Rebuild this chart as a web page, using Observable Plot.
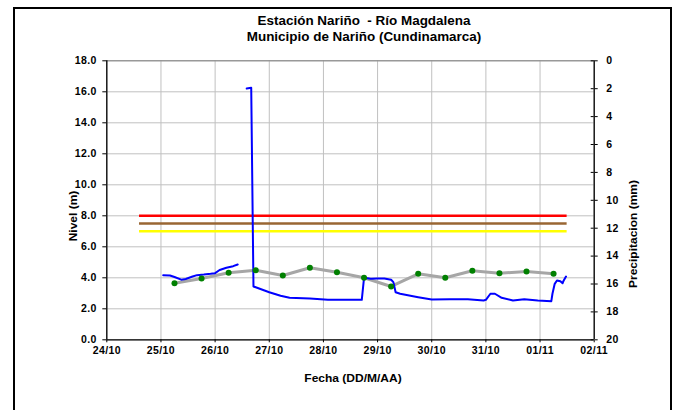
<!DOCTYPE html>
<html><head><meta charset="utf-8">
<script src="https://cdn.jsdelivr.net/npm/d3@7"></script>
<script src="https://cdn.jsdelivr.net/npm/@observablehq/plot@0.6"></script>
<style>
body{margin:0;background:#fff;}
#wrap{position:relative;width:676px;height:410px;overflow:hidden;font-family:"Liberation Sans",Arial,sans-serif;background:#fff;}
#frame{position:absolute;left:13px;top:7px;width:659px;height:430px;border:2px solid #000;box-sizing:border-box;}
#chart{position:absolute;left:0;top:0;}
.t{position:absolute;font-weight:bold;white-space:nowrap;color:#000;}
.h{transform:translate(-50%,-50%) scaleX(1.12);}
.a{transform:translate(-50%,-50%) scaleX(1.2);}
.r{transform:translate(-50%,-50%) rotate(-90deg) scaleX(1.2);}
</style></head><body>
<div id="wrap">
  <div id="frame"></div>
  <div id="chart"></div>
  <div class="t h" style="left:364px;top:21px;font-size:12px;">Estación Nariño&nbsp; - Río Magdalena</div>
  <div class="t h" style="left:364px;top:37px;font-size:12px;">Municipio de Nariño (Cundinamarca)</div>
  <div class="t r" style="left:73px;top:216px;font-size:10px;">Nivel (m)</div>
  <div class="t r" style="left:633px;top:234px;font-size:10px;">Precipitacion (mm)</div>
  <div class="t a" style="left:353px;top:378px;font-size:10px;">Fecha (DD/M/AA)</div>
</div>
<script>
// ---- data ----
const dominioFechas = ["2011-10-24 00:00", "2011-11-02 00:00"];
const ticksFechas = ["2011-10-24","2011-10-25","2011-10-26","2011-10-27","2011-10-28","2011-10-29","2011-10-30","2011-10-31","2011-11-01","2011-11-02"];
const ticksNivel = [0,2,4,6,8,10,12,14,16,18];
const ticksPrecip = [0,2,4,6,8,10,12,14,16,18,20];

// continuous level record (m); null = gap
const nivelFechas = [
  "2011-10-25 01:00","2011-10-25 04:00","2011-10-25 06:00","2011-10-25 09:00","2011-10-25 11:00",
  "2011-10-25 14:00","2011-10-25 16:00","2011-10-25 19:00","2011-10-25 22:00","2011-10-26 00:00",
  "2011-10-26 02:00","2011-10-26 05:00","2011-10-26 08:00","2011-10-26 10:00",
  "2011-10-26 12:00",
  "2011-10-26 14:00","2011-10-26 16:00","2011-10-26 17:00",
  "2011-10-27 00:00","2011-10-27 05:00","2011-10-27 09:00","2011-10-27 18:00","2011-10-28 02:00",
  "2011-10-28 17:00","2011-10-28 18:00","2011-10-28 21:00","2011-10-29 00:00","2011-10-29 03:00",
  "2011-10-29 06:00","2011-10-29 07:00","2011-10-29 08:00","2011-10-29 10:00","2011-10-29 18:00",
  "2011-10-30 00:00","2011-10-30 08:00","2011-10-30 16:00","2011-10-30 23:00","2011-10-31 00:00",
  "2011-10-31 02:00","2011-10-31 04:00","2011-10-31 07:00","2011-10-31 12:00","2011-10-31 17:00",
  "2011-10-31 23:00","2011-11-01 05:00","2011-11-01 05:30","2011-11-01 06:30","2011-11-01 07:30",
  "2011-11-01 09:00","2011-11-01 10:00","2011-11-01 10:30","2011-11-01 11:30"
];
const nivelValores = [
  4.17,4.15,4.05,3.88,3.92,
  4.08,4.17,4.21,4.26,4.30,
  4.50,4.65,4.75,4.86,
  null,
  16.21,16.26,3.44,
  3.07,2.84,2.71,2.66,2.58,
  2.58,4.00,3.94,3.95,3.95,
  3.87,3.72,3.07,2.97,2.75,
  2.60,2.62,2.62,2.54,2.58,
  2.97,2.97,2.71,2.54,2.62,
  2.54,2.49,2.97,3.61,3.83,
  3.78,3.65,3.83,4.08
];

// manual readings 06:00 / 18:00 (m)
const lecturaFechas = [
  "2011-10-25 06:00","2011-10-25 18:00","2011-10-26 06:00","2011-10-26 18:00","2011-10-27 06:00",
  "2011-10-27 18:00","2011-10-28 06:00","2011-10-28 18:00","2011-10-29 06:00","2011-10-29 18:00",
  "2011-10-30 06:00","2011-10-30 18:00","2011-10-31 06:00","2011-10-31 18:00","2011-11-01 06:00"
];
const lecturaValores = [3.65,3.95,4.32,4.49,4.15,4.65,4.36,4.00,3.44,4.26,4.00,4.45,4.30,4.40,4.26];

// alert thresholds (m)
const umbralNombres = ["Roja","Naranja","Amarilla"];
const umbralValores = [8.0, 7.5, 7.0];
const umbralColores = ["#ff0000","#996633","#ffff00"];
const umbralInicio = "2011-10-24 14:30";
const umbralFin = "2011-11-01 12:00";

// ---- build ----
const parse = d3.utcParse("%Y-%m-%d %H:%M");
const parseDay = d3.utcParse("%Y-%m-%d");
const xDom = dominioFechas.map(parse);
const xTicks = ticksFechas.map(parseDay);
const nivel = nivelFechas.map((f,i)=>({fecha: parse(f), valor: nivelValores[i]}));
const lecturas = lecturaFechas.map((f,i)=>({fecha: parse(f), valor: lecturaValores[i]}));
const umbrales = umbralNombres.map((n,i)=>({nombre:n, valor:umbralValores[i], color:umbralColores[i], x1: parse(umbralInicio), x2: parse(umbralFin)}));
const yMax = 18, pMax = 20;
const precipPos = ticksPrecip.map(p => yMax - p * yMax / pMax);

const font = {fontSize: 10.5, fontWeight: "bold", fill: "#000"};

const chart = Plot.plot({
  width: 676, height: 410,
  marginLeft: 106.3, marginRight: 82.3, marginTop: 60.3, marginBottom: 70.7,
  style: {fontFamily: '"Liberation Sans", Arial, sans-serif', background: "transparent", overflow: "visible", letterSpacing: "0.4px"},
  x: {type: "utc", domain: xDom},
  y: {domain: [0, yMax]},
  marks: [
    Plot.gridY(ticksNivel, {stroke: "#c0c0c0", strokeOpacity: 1}),
    Plot.gridX(xTicks, {stroke: "#c0c0c0", strokeOpacity: 1}),
    Plot.ruleY([yMax], {stroke: "#808080"}),
    Plot.ruleY(umbrales, {y: "valor", x1: "x1", x2: "x2", stroke: "color", strokeWidth: 2.5}),
    Plot.line(lecturas, {x: "fecha", y: "valor", stroke: "#a6a6a6", strokeWidth: 3}),
    Plot.line(nivel, {x: "fecha", y: "valor", stroke: "#0000ff", strokeWidth: 2}),
    Plot.dot(lecturas, {x: "fecha", y: "valor", r: 3, fill: "#008000", stroke: "none"}),
    Plot.ruleX(xDom, {stroke: "#000", strokeWidth: 1.3}),
    Plot.ruleY([0], {stroke: "#000", strokeWidth: 1.3}),
    Plot.axisY(ticksNivel, {anchor: "left", tickSize: 4, tickPadding: 6, tickFormat: d => d.toFixed(1), label: null, ...font}),
    Plot.axisY(precipPos, {anchor: "right", tickSize: 3, tickPadding: 9, tickFormat: (d, i) => ticksPrecip[i], label: null, ...font}),
    Plot.ruleY(precipPos, {x1: () => xDom[1], x2: () => xDom[1], insetLeft: -3, insetRight: 0, stroke: "#000"}),
    Plot.axisX(xTicks, {anchor: "bottom", tickSize: 3, tickPadding: 4, tickFormat: d3.utcFormat("%d/%m"), label: null, ...font})
  ]
});
document.getElementById("chart").appendChild(chart);
</script>
</body></html>
